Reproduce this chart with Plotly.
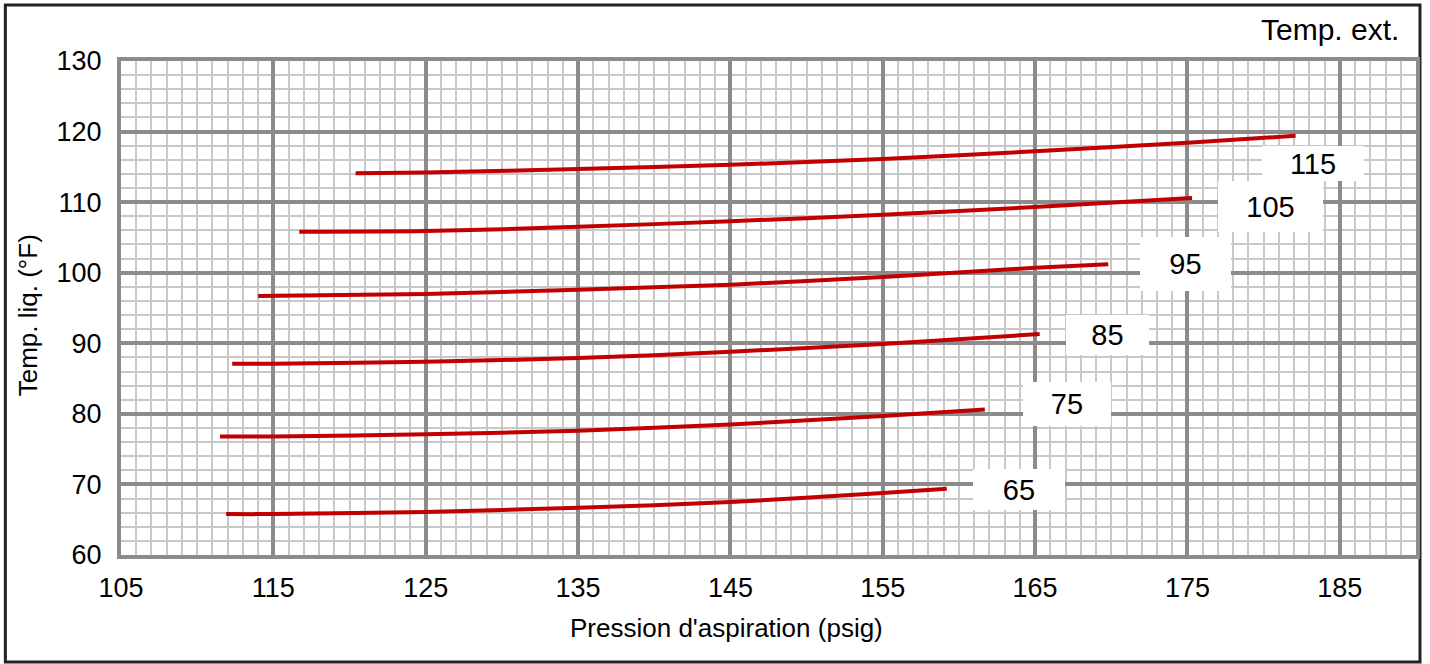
import plotly.graph_objects as go

# ---- data ----
labels = ["65", "75", "85", "95", "105", "115"]

x65 = [111.9, 115, 125, 135, 145, 155, 159.2]
y65 = [65.8, 65.8, 66.1, 66.7, 67.5, 68.8, 69.4]

x75 = [111.5, 115, 125, 135, 145, 155, 161.7]
y75 = [76.8, 76.8, 77.1, 77.6, 78.5, 79.7, 80.6]

x85 = [112.3, 115, 125, 135, 145, 155, 165.3]
y85 = [87.1, 87.1, 87.4, 87.9, 88.8, 89.9, 91.3]

x95 = [114.0, 125, 135, 145, 155, 165, 169.8]
y95 = [96.7, 97.0, 97.6, 98.3, 99.4, 100.7, 101.2]

x105 = [116.7, 125, 135, 145, 155, 165, 175.3]
y105 = [105.8, 105.9, 106.5, 107.3, 108.2, 109.3, 110.6]

x115 = [120.4, 125, 135, 145, 155, 165, 175, 182.1]
y115 = [114.1, 114.2, 114.7, 115.3, 116.1, 117.2, 118.4, 119.4]

xs = [x65, x75, x85, x95, x105, x115]
ys = [y65, y75, y85, y95, y105, y115]

# label box placement (layout, not data)
label_pos = [(163.95, 69.28), (167.09, 81.4), (169.74, 91.17),
             (174.9, 101.23), (180.46, 109.38), (183.24, 115.48)]
label_box = [(92, 41), (88, 44), (83, 40), (91, 54), (105, 51), (102, 35)]

FONT = "Liberation Sans, Arial, sans-serif"
RED = "#c00000"

fig = go.Figure()
for name, x, y in zip(labels, xs, ys):
    fig.add_trace(go.Scatter(x=x, y=y, mode="lines", name=name,
                             line=dict(color=RED, width=4, shape="spline", smoothing=0.8),
                             showlegend=False, hoverinfo="skip"))

annotations = []
for name, (ax, ay), (w, h) in zip(labels, label_pos, label_box):
    annotations.append(dict(x=ax, y=ay, xref="x", yref="y", text=name, showarrow=False,
                            bgcolor="white", borderpad=0, borderwidth=0, width=w, height=h,
                            align="center", valign="middle",
                            font=dict(family=FONT, size=29, color="#000")))

L, R, T, B = 121, 10, 61, 109
W, H = 1430, 664
pw, ph = W - L - R, H - T - B

def px_to_paper_x(px):
    return (px - L) / pw

def px_to_paper_y(py):
    return (H - B - py) / ph

annotations.append(dict(x=px_to_paper_x(1405), y=px_to_paper_y(30), xref="paper", yref="paper",
                        text="Temp. ext.", showarrow=False, xanchor="right", yanchor="middle",
                        font=dict(family=FONT, size=30, color="#000")))
annotations.append(dict(x=px_to_paper_x(728), y=px_to_paper_y(628), xref="paper", yref="paper",
                        text="Pression d'aspiration (psig)", showarrow=False,
                        xanchor="center", yanchor="middle",
                        font=dict(family=FONT, size=26, color="#000")))
annotations.append(dict(x=px_to_paper_x(28), y=px_to_paper_y(315), xref="paper", yref="paper",
                        text="Temp. liq. (°F)", showarrow=False, textangle=-90,
                        xanchor="center", yanchor="middle",
                        font=dict(family=FONT, size=26, color="#000")))

shapes = [dict(type="rect", xref="paper", yref="paper",
               x0=px_to_paper_x(5), x1=px_to_paper_x(1424),
               y0=px_to_paper_y(662), y1=px_to_paper_y(5),
               line=dict(color="#222", width=3), fillcolor="rgba(0,0,0,0)", layer="below")]

fig.update_layout(
    width=W, height=H,
    margin=dict(l=L, r=R, t=T, b=B, pad=0),
    paper_bgcolor="white", plot_bgcolor="white",
    annotations=annotations, shapes=shapes,
    font=dict(family=FONT, color="#000"),
)
fig.update_xaxes(range=[105, 190], tick0=105, dtick=10, showgrid=True,
                 gridcolor="#8c8c8c", gridwidth=3.5, zeroline=False,
                 showline=True, linecolor="#8c8c8c", linewidth=4, mirror=True,
                 ticks="", tickfont=dict(family=FONT, size=27, color="#000"),
                 ticklabelstandoff=6,
                 minor=dict(dtick=1, tick0=105, showgrid=True, gridcolor="#c8c8c8", gridwidth=1.5))
fig.update_yaxes(range=[60, 130], tick0=60, dtick=10, showgrid=True,
                 gridcolor="#8c8c8c", gridwidth=3.5, zeroline=False,
                 showline=True, linecolor="#8c8c8c", linewidth=4, mirror=True,
                 ticks="", tickfont=dict(family=FONT, size=27, color="#000"),
                 ticklabelstandoff=10,
                 minor=dict(dtick=2, tick0=60, showgrid=True, gridcolor="#c8c8c8", gridwidth=1.5))

fig.write_html("out.html", config={"displayModeBar": False},
               post_script="document.body.style.margin='0';")
